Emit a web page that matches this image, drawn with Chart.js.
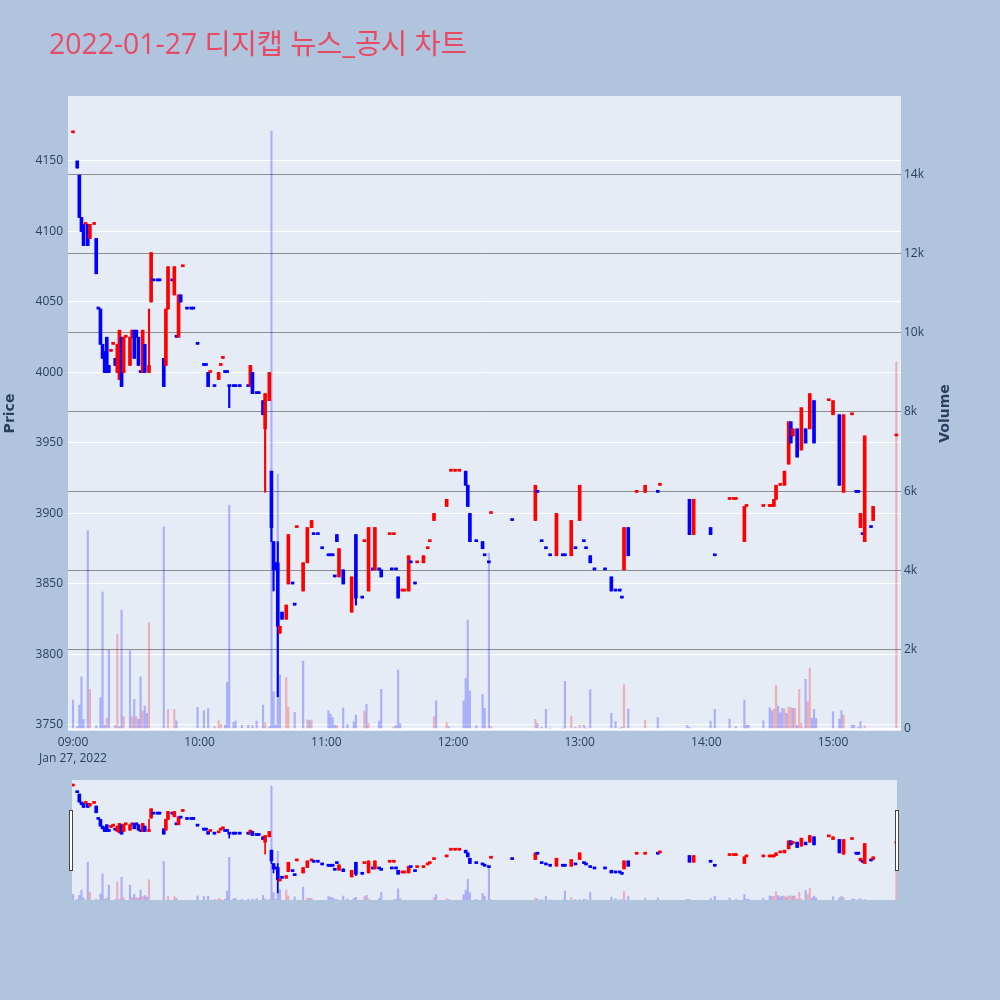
<!DOCTYPE html>
<html>
<head>
<meta charset="utf-8">
<script src="https://cdn.jsdelivr.net/npm/chart.js@4.4.1/dist/chart.umd.min.js"></script>
<style>
  html, body { margin: 0; padding: 0; background: #b0c4de; }
  #wrap { position: relative; width: 1000px; height: 1000px; overflow: hidden; }
  #main { position: absolute; left: 0; top: 0; }
  #slider { position: absolute; left: 72px; top: 780px; background: #e5ecf6; }
  #title { position: absolute; left: 49px; top: 21px; font: 28.4px "Open Sans", "Noto Sans CJK KR", sans-serif;
           color: #e84a64; white-space: nowrap; line-height: normal; }
  .handle { position: absolute; top: 810px; width: 2px; height: 59px; background: #fff; border: 1px solid #444; }
</style>
</head>
<body>
<div id="wrap">
  <canvas id="main" width="1000" height="1000"></canvas>
  <canvas id="slider" width="825" height="120"></canvas>
  <div class="handle" style="left:69px"></div>
  <div class="handle" style="left:895px"></div>
  <div id="title">2022-01-27 디지캡 뉴스_공시 차트</div>
</div>
<script>
// 1-minute candles, minutes after 09:00
const minutes = [0,2,3,4,5,6,7,8,10,11,12,13,14,15,16,17,18,19,20,21,22,23,24,25,27,28,29,30,31,32,33,34,36,37,38,40,41,43,44,45,47,48,49,50,51,52,54,56,57,59,
  62,63,64,65,67,69,70,71,72,73,74,76,77,79,83,84,85,87,88,90,91,93,94,95,96,97,98,99,101,102,104,105,106,109,111,113,114,116,118,121,122,123,124,125,126,128,132,134,137,138,
  140,142,143,145,146,150,151,152,153,154,156,157,159,160,162,163,166,168,169,171,177,179,181,183,186,187,188,191,194,195,197,198,208,219,220,222,224,226,229,232,233,236,238,240,242,243,245,247,252,255,
  257,259,260,261,263,267,271,277,278,292,294,302,304,311,313,314,318,319,327,330,331,332,333,335,337,339,340,341,343,345,347,349,351,358,360,363,365,369,371,372,373,374,375,378,379,390];
const opens = [4170,4150,4140,4110,4105,4105,4105,4095,4105,4095,4045,4045,4020,4015,4025,4005,4015,4020,4010,4000,3995,4025,4000,4025,4005,4025,4030,4030,4025,4000,4000,4020,4000,4050,4065,4065,4065,4010,4005,4045,4065,4055,4025,4025,4055,4075,4045,4045,4045,4020,
  4005,4005,4000,4000,3990,3995,4005,4010,4000,4000,3990,3990,3990,3990,3990,3990,4000,3985,3985,3980,3960,3980,3930,3880,3865,3865,3815,3830,3825,3850,3850,3835,3890,3845,3865,3890,3885,3885,3875,3870,3870,3870,3855,3885,3855,3860,3830,3885,3840,3880,
  3845,3860,3860,3860,3860,3885,3860,3885,3860,3855,3845,3845,3845,3865,3850,3865,3865,3875,3880,3895,3905,3930,3930,3930,3930,3920,3900,3880,3880,3870,3865,3900,3895,3895,3915,3880,3875,3870,3870,3870,3870,3870,3875,3895,3880,3875,3870,3860,3860,3855,
  3845,3845,3840,3860,3890,3915,3915,3915,3920,3910,3885,3890,3870,3910,3910,3910,3880,3905,3905,3905,3905,3905,3910,3920,3920,3935,3965,3955,3960,3945,3960,3960,3980,3980,3970,3970,3915,3970,3915,3915,3890,3885,3880,3890,3895,3955];
const highs = [4170,4150,4140,4110,4105,4105,4105,4105,4105,4095,4045,4045,4020,4015,4025,4005,4015,4020,4010,4020,4030,4025,4025,4025,4025,4030,4030,4030,4025,4000,4030,4020,4045,4085,4065,4065,4065,4010,4045,4075,4065,4075,4025,4055,4055,4075,4045,4045,4045,4020,
  4005,4005,4000,4000,3990,4000,4005,4010,4000,4000,3990,3990,3990,3990,3990,4005,4000,3985,3985,3980,3985,4000,3930,3880,3865,3880,3820,3830,3835,3885,3850,3835,3890,3865,3890,3895,3885,3885,3875,3870,3870,3870,3855,3885,3875,3860,3855,3885,3840,3880,
  3890,3860,3890,3860,3860,3885,3860,3885,3860,3855,3845,3845,3870,3865,3850,3865,3870,3875,3880,3900,3910,3930,3930,3930,3930,3920,3900,3880,3880,3870,3865,3900,3895,3920,3915,3880,3875,3870,3900,3870,3870,3895,3875,3920,3880,3875,3870,3860,3860,3855,
  3845,3845,3840,3890,3890,3915,3920,3915,3920,3910,3910,3890,3870,3910,3910,3910,3905,3905,3905,3905,3905,3910,3920,3920,3930,3965,3965,3960,3960,3975,3960,3985,3980,3980,3980,3970,3970,3970,3915,3915,3900,3885,3955,3890,3905,3955];
const lows = [4170,4145,4110,4100,4090,4105,4090,4095,4105,4070,4045,4020,4010,4000,4000,4000,4015,4020,4005,4000,3995,3990,4000,4025,4005,4025,4010,4025,4005,4000,4000,4000,4000,4050,4065,4065,4065,3990,4005,4045,4065,4055,4025,4025,4050,4075,4045,4045,4045,4020,
  4005,4005,3990,4000,3990,3995,4005,4010,4000,4000,3975,3990,3990,3990,3990,3990,3985,3985,3985,3970,3915,3980,3880,3845,3860,3770,3815,3825,3825,3850,3850,3835,3890,3845,3865,3890,3885,3885,3875,3870,3870,3870,3855,3880,3855,3850,3830,3835,3840,3880,
  3845,3860,3860,3860,3855,3885,3860,3885,3860,3840,3845,3845,3845,3865,3850,3865,3865,3875,3880,3895,3905,3930,3930,3930,3920,3905,3880,3880,3875,3870,3865,3900,3895,3895,3915,3880,3875,3870,3870,3870,3870,3870,3875,3895,3880,3875,3865,3860,3860,3845,
  3845,3845,3840,3860,3870,3915,3915,3915,3920,3885,3885,3885,3870,3910,3910,3910,3880,3905,3905,3905,3905,3905,3910,3920,3920,3935,3950,3955,3940,3945,3950,3960,3950,3980,3970,3920,3915,3970,3915,3915,3890,3885,3880,3890,3895,3955];
const closes = [4170,4145,4110,4100,4090,4105,4090,4105,4105,4070,4045,4020,4010,4000,4000,4000,4015,4020,4005,4020,4030,3990,4025,4025,4025,4030,4010,4025,4005,4000,4030,4000,4005,4085,4065,4065,4065,3990,4045,4075,4065,4075,4025,4055,4050,4075,4045,4045,4045,4020,
  4005,4005,3990,4000,3990,4000,4005,4010,4000,4000,3990,3990,3990,3990,3990,4005,3985,3985,3985,3970,3985,4000,3890,3860,3860,3820,3820,3825,3835,3885,3850,3835,3890,3865,3890,3895,3885,3885,3875,3870,3870,3870,3855,3880,3875,3850,3855,3840,3840,3880,
  3890,3860,3890,3860,3855,3885,3860,3885,3860,3840,3845,3845,3870,3865,3850,3865,3870,3875,3880,3900,3910,3930,3930,3930,3920,3905,3880,3880,3875,3870,3865,3900,3895,3920,3915,3880,3875,3870,3900,3870,3870,3895,3875,3920,3880,3875,3865,3860,3860,3845,
  3845,3845,3840,3890,3870,3915,3920,3915,3920,3885,3910,3885,3870,3910,3910,3910,3905,3905,3905,3905,3905,3910,3920,3920,3930,3965,3950,3960,3940,3975,3950,3985,3950,3980,3980,3920,3970,3970,3915,3915,3900,3885,3955,3890,3905,3955];

// volume bars: minute, shares, rising(1) / falling(0)
const volMinutes = [0,2,3,4,5,7,8,11,13,14,15,16,17,20,21,22,23,24,27,28,29,30,31,32,33,34,35,36,43,45,48,49,59,62,64,67,69,70,72,73,74,76,77,80,83,85,87,90,91,93,
  94,95,96,97,98,101,102,105,109,111,112,113,121,122,123,124,125,128,130,133,134,138,139,140,145,146,152,153,154,155,171,172,177,178,185,186,187,188,191,194,195,197,198,
  219,220,222,224,226,232,233,236,238,240,242,243,245,255,257,259,260,261,263,271,277,291,292,302,304,311,314,318,319,320,327,330,331,332,333,334,335,336,337,338,339,340,341,342,343,344,345,347,348,349,350,351,352,
  360,363,364,365,369,370,372,373,375,390];
const volValues = [732,58,605,1320,244,5000,1000,84,790,3456,100,270,1993,84,2389,58,3002,310,1975,310,749,310,244,1320,454,580,395,2683,5096,496,496,202,547,462,513,58,210,118,100,1178,5650,160,202,100,100,84,202,605,160,58,
  15086,941,100,6430,1362,1303,547,420,1715,230,210,230,462,370,290,100,90,530,118,185,355,454,622,140,202,1000,58,84,1488,140,310,715,160,58,706,1278,2750,959,84,875,521,4440,58,
  244,143,42,496,17,17,1202,328,42,100,100,17,992,395,185,17,42,1118,505,227,286,92,42,200,496,252,59,732,100,100,210,538,462,505,1102,580,412,521,505,395,555,538,521,521,100,1001,143,1253,689,1539,269,496,269,
  437,252,463,353,100,100,42,185,75,9260];
const volRise = [0,0,0,0,0,0,1,0,0,0,0,1,0,0,1,0,0,1,0,1,0,1,0,0,1,0,0,1,0,1,1,0,0,0,0,0,1,1,0,0,0,0,0,0,0,0,0,0,1,0,
  0,0,0,0,0,1,1,0,0,1,0,1,0,0,0,0,1,0,0,0,0,1,0,1,0,0,1,0,0,0,1,0,1,0,0,0,0,0,0,0,0,0,1,
  1,0,0,0,0,0,0,1,0,1,0,0,0,0,0,0,0,1,0,1,0,0,0,0,0,0,0,0,0,0,0,0,0,1,1,0,0,0,1,0,1,1,0,1,0,1,1,0,1,1,0,0,0,
  0,0,0,1,0,0,0,0,1,1];

const priceTicks = [3750, 3800, 3850, 3900, 3950, 4000, 4050, 4100, 4150];
const volumeTicks = [0, 2000, 4000, 6000, 8000, 10000, 12000, 14000];
const hourTicks = [0, 60, 120, 180, 240, 300, 360];
const dateLabel = 'Jan 27, 2022';

const RED = '#ff0000';
const BLUE = '#0000ff';
const TEXT = '#2a3f5f';

// candle direction the way plotly picks it (doji follows the previous close)
let up = true;
let prevClose = null;
const candleUp = minutes.map((m, i) => {
  const o = opens[i], c = closes[i];
  if (c !== o) up = c > o;
  else if (prevClose !== null && c !== prevClose) up = c > prevClose;
  prevClose = c;
  return up;
});
const candleColors = candleUp.map(u => u ? RED : BLUE);
const volColors = volRise.map(r => r ? 'rgba(255,0,0,0.26)' : 'rgba(0,0,255,0.26)');

function buildDatasets(bodyWidth, wickWidth, volWidth) {
  return [
    {
      data: volMinutes.map((m, i) => ({ x: m, y: volValues[i] })),
      yAxisID: 'y2', backgroundColor: volColors, barThickness: volWidth, grouped: false, order: 3
    },
    {
      data: minutes.map((m, i) => ({ x: m, y: [lows[i], highs[i]] })),
      yAxisID: 'y', backgroundColor: candleColors, barThickness: wickWidth, grouped: false, order: 2
    },
    {
      data: minutes.map((m, i) => ({ x: m, y: [opens[i], closes[i]] })),
      yAxisID: 'y', backgroundColor: candleColors, barThickness: bodyWidth, minBarLength: 2, grouped: false, order: 1
    }
  ];
}

const plotBg = {
  id: 'plotBg',
  beforeDraw(chart) {
    const { ctx, chartArea: a } = chart;
    ctx.save();
    ctx.fillStyle = '#e5ecf6';
    ctx.fillRect(a.left, a.top, a.right - a.left, a.bottom - a.top);
    ctx.restore();
  }
};

// plotly writes the right axis title bottom-to-top as well
const volumeTitle = {
  id: 'volumeTitle',
  afterDraw(chart) {
    const { ctx, chartArea: a } = chart;
    ctx.save();
    ctx.translate(945, (a.top + a.bottom) / 2);
    ctx.rotate(-Math.PI / 2);
    ctx.font = 'bold 14px "DejaVu Sans"';
    ctx.fillStyle = TEXT;
    ctx.textAlign = 'center';
    ctx.textBaseline = 'middle';
    ctx.fillText('Volume', 0, 0);
    ctx.restore();
  }
};

const tickFont = { family: 'Open Sans', size: 12 };

new Chart(document.getElementById('main'), {
  type: 'bar',
  data: { datasets: buildDatasets(3, 1.5, 1.5) },
  options: {
    responsive: false,
    animation: false,
    events: [],
    layout: { padding: { top: 96, right: 43, left: 0, bottom: 0 } },
    plugins: { legend: { display: false }, tooltip: { enabled: false } },
    scales: {
      x: {
        type: 'linear', min: -2.37, max: 392.2, offset: false,
        grid: { display: false }, border: { display: false },
        afterBuildTicks: s => { s.ticks = hourTicks.map(v => ({ value: v })); },
        afterFit: s => { s.height = 269; },
        ticks: {
          padding: -4, color: TEXT, font: { ...tickFont, lineHeight: 1.33 }, maxRotation: 0,
          callback: (v, i) => {
            const hh = String(9 + v / 60).padStart(2, '0') + ':00';
            return i === 0 ? [hh, dateLabel] : hh;
          }
        }
      },
      y: {
        position: 'left', min: 3745.7, max: 4196.1,
        grid: { color: '#ffffff', lineWidth: 1, drawTicks: false }, border: { display: false },
        afterBuildTicks: s => { s.ticks = priceTicks.map(v => ({ value: v })); },
        afterFit: s => { s.width = 68; },
        ticks: { padding: 5, color: TEXT, font: tickFont, callback: v => String(v) },
        title: { display: true, text: 'Price', color: TEXT, padding: { top: 2, bottom: 0 },
                 font: { family: 'DejaVu Sans', size: 14, weight: 'bold' } }
      },
      y2: {
        position: 'right', min: -50, max: 15970,
        grid: {
          color: c => c.tick.value === 0 ? '#ffffff' : '#8c8c8c',
          lineWidth: c => c.tick.value === 0 ? 2 : 1,
          drawTicks: false
        },
        border: { display: false },
        afterBuildTicks: s => { s.ticks = volumeTicks.map(v => ({ value: v })); },
        afterFit: s => { s.width = 56; },
        ticks: { padding: 3, color: TEXT, font: tickFont, callback: v => v === 0 ? '0' : (v / 1000) + 'k' }
      }
    }
  },
  plugins: [plotBg, volumeTitle]
});

// range slider overview
new Chart(document.getElementById('slider'), {
  type: 'bar',
  data: { datasets: buildDatasets(3, 1, 1.5) },
  options: {
    responsive: false,
    animation: false,
    events: [],
    layout: { padding: 0 },
    plugins: { legend: { display: false }, tooltip: { enabled: false } },
    scales: {
      x: { type: 'linear', display: false, min: -0.47, max: 390.3, offset: false },
      y: { display: false, min: 3743.8, max: 4192.4 },
      y2: { display: false, min: 0, max: 15880 }
    }
  }
});
</script>
</body>
</html>
